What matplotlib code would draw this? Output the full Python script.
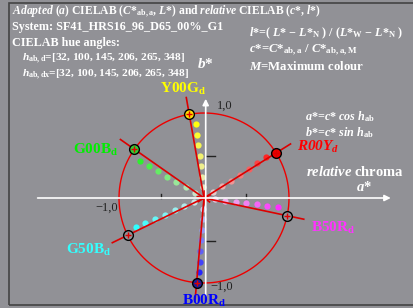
import numpy as np
import matplotlib.pyplot as plt
from matplotlib.patches import Rectangle

plt.rcParams['font.family'] = ['Liberation Serif', 'DejaVu Serif']
plt.rcParams['mathtext.fontset'] = 'custom'
plt.rcParams['mathtext.rm'] = 'Liberation Serif:bold'
plt.rcParams['mathtext.bf'] = 'Liberation Serif:bold'
plt.rcParams['mathtext.it'] = 'Liberation Serif:italic:bold'

# hue angles of the six colours (degrees)
hues = [32, 100, 145, 206, 265, 348]
names = ['R00Y', 'Y00G', 'G00B', 'G50B', 'B00R', 'B50R']
colors = ['#ff1a1a', '#ffff00', '#22ee22', '#22ffff', '#1a1aff', '#ff22ff']
marker_fill = ['#ee0000', '#ffdd00', '#33cc33', '#919196', '#1a1a99', '#919196']
label_colors = ['#ff0000', '#ffff00', '#00ee00', '#33ffff', '#0000ff', '#ff33ff']
dot_hues = [33, 96, 150, 203, 266, 353]
# relative chroma of the dots
dot_c = [0.125, 0.25, 0.375, 0.5, 0.625, 0.75, 0.875]

bg = '#919196'
fig = plt.figure(figsize=(4.13, 3.08), dpi=100, facecolor=bg)
ax = fig.add_axes([0, 0, 1, 1])
ax.set_facecolor(bg)
s = 85.0
ax.set_xlim(-204 / s, (413 - 204) / s)
ax.set_ylim(-(308 - 198) / s, 198 / s)
ax.axis('off')

# frame
ax.add_patch(Rectangle((-195 / s, -(305 - 198) / s), 500 / s, (305 - 3) / s,
                       fill=False, ec='#444444', lw=1.2))

# axes with arrows
ax.annotate('', xy=(2.23, 0), xytext=(-1.99, 0),
            arrowprops=dict(arrowstyle='-|>', color='white', lw=1.2, mutation_scale=9))
ax.annotate('', xy=(0.02, 1.2), xytext=(0.02, -1.2),
            arrowprops=dict(arrowstyle='-|>', color='white', lw=1.2, mutation_scale=9))
for t in [-0.5, 0.5]:
    ax.plot([t, t], [0, 0.05], color='#222222', lw=1)
    ax.plot([0.02, 0.13], [t, t], color='#222222', lw=1)
ax.text(0.15, 1.09, '1,0', fontsize=9, color='#222222', va='center')
ax.text(-1.14, -0.11, '\u22121,0', fontsize=9, color='#222222', va='center', ha='center')
ax.text(0.07, -1.04, '\u22121,0', fontsize=9, color='#222222', va='center')

# unit circle
th = np.linspace(0, 2 * np.pi, 400)
ax.plot(np.cos(th), np.sin(th), color='#ee0000', lw=1)

# dots
for h, col in zip(dot_hues, colors):
    r = np.radians(h)
    rgb = np.array(plt.matplotlib.colors.to_rgb(col))
    for k, c in enumerate(dot_c):
        f = (k + 1) / len(dot_c)
        cc = 1 - f * (1 - rgb) * 0.95
        cc = np.clip(cc * (0.88 + 0.12 * f), 0, 1)
        ax.plot(c * np.cos(r), c * np.sin(r), 'o', ms=4.5, color=cc, mec='none')

# hue lines and maximum colours
for h, mf in zip(hues, marker_fill):
    r = np.radians(h)
    ax.plot([-0.08 * np.cos(r), 1.2 * np.cos(r)], [-0.08 * np.sin(r), 1.2 * np.sin(r)],
            color='#dd0000', lw=1.2)
    ax.plot(np.cos(r), np.sin(r), 'o', ms=7, mfc=mf, mec='black', mew=1)
    ax.plot(np.cos(r), np.sin(r), '+', ms=5, color='#dd0000', mew=1)

# colour labels
lab_pos = [(1.09, 0.6, 'left'), (-0.25, 1.28, 'center'), (-1.01, 0.56, 'right'),
           (-1.09, -0.61, 'right'), (0.0, -1.21, 'center'), (1.26, -0.35, 'left')]
for (x, y, ha), n, col in zip(lab_pos, names, label_colors):
    style = 'italic' if n == 'R00Y' else 'normal'
    sub = r'$_\mathit{d}$' if n == 'R00Y' else r'$_\mathrm{d}$'
    ax.text(x, y, n + sub, color=col, fontsize=11, fontweight='bold',
            fontstyle=style, ha=ha, va='center')

# texts
w = dict(color='white', fontsize=8.7, fontweight='bold', transform=fig.transFigure)
W = 413.0
H = 308.0
def T(x, y, s, **kw):
    d = dict(w)
    d.update(kw)
    ax.text(x / W, 1 - y / H, s, va='center', **d)

T(12, 12, r'$\it{Adapted\ (a)}$ CIELAB ($C$*$_\mathrm{ab,a}$, $L$*) and $\it{relative}$ CIELAB ($c$*, $l$*)', fontsize=8.4)
T(12, 27, 'System: SF41_HRS16_96_D65_00%_G1')
T(12, 43, 'CIELAB hue angles:')
T(22, 59, r'$h$$_\mathrm{ab,d}$=[32, 100, 145, 206, 265, 348]', fontsize=8.2)
T(22, 75, r'$h$$_\mathrm{ab,dx}$=[32, 100, 145, 206, 265, 348]', fontsize=8.2)
T(197, 64, r'$b$*', fontsize=11)
T(249, 33, r'$l$*=( $L$* $-$ $L$*$_\mathrm{N}$ ) / ($L$*$_\mathrm{W}$ $-$ $L$*$_\mathrm{N}$ )')
T(249, 50, r'$c$*=$C$*$_\mathrm{ab,a}$ / $C$*$_\mathrm{ab,a,M}$', fontsize=9.2)
T(249, 67, r'$M$=Maximum colour', fontsize=9.2)
T(305, 117, r'$a$*=$c$* $cos$ $h$$_\mathrm{ab}$')
T(305, 133, r'$b$*=$c$* $sin$ $h$$_\mathrm{ab}$')
T(306, 172, r'$\it{relative}$ chroma', fontsize=10.5)
T(356, 187, r'$a$*', fontsize=10.5)

fig.savefig('out.png', dpi=100, facecolor=bg)
